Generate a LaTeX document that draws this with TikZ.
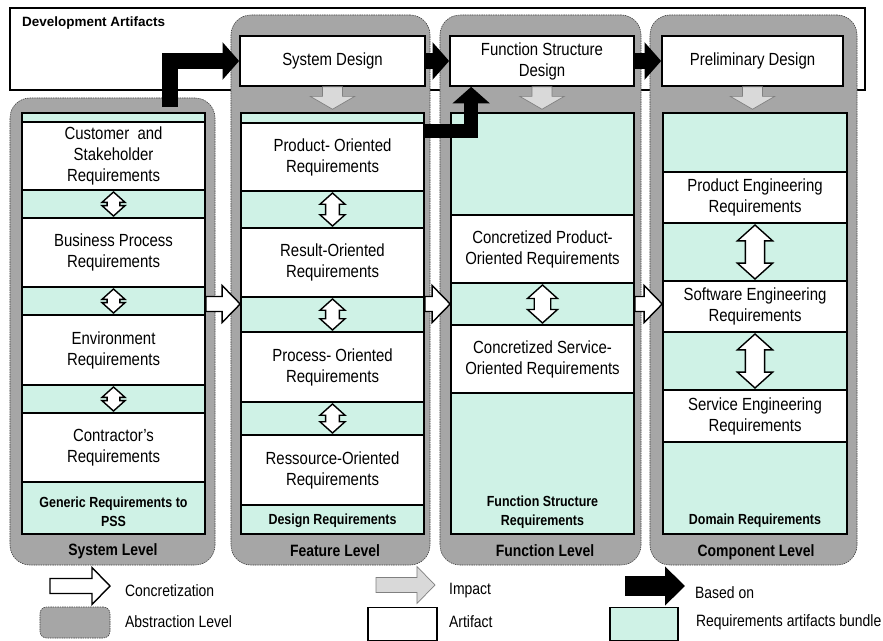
\documentclass[tikz,border=0pt]{standalone}
\usepackage{fontspec}
\setmainfont[FakeStretch=0.85]{Liberation Sans}
\newfontfamily\widefont{Liberation Sans}
\usetikzlibrary{arrows.meta,calc}

\definecolor{levelgray}{HTML}{A6A6A6}
\definecolor{bundlegreen}{HTML}{CFF2E6}
\definecolor{impactgray}{HTML}{D9D9D9}

\begin{document}
\begin{tikzpicture}[x=0.03cm,y=-0.03cm,
  level/.style={fill=levelgray,draw=black!75,line width=0.5pt,dash pattern=on 1.2pt off 0.8pt,rounded corners=0.6cm,inner sep=0pt},
  stack/.style={fill=bundlegreen,draw=black,line width=1.4pt,inner sep=0pt,minimum width=5.49cm,minimum height=12.63cm},
  artifact/.style={fill=white,draw=black,line width=1.4pt,inner sep=0pt,minimum width=5.49cm,align=center,font=\fontsize{15}{18}\selectfont},
  bundlefont/.style={align=center,font=\fontsize{12.5}{16}\selectfont\bfseries},
  levelfont/.style={font=\fontsize{14}{16}\selectfont\bfseries},
  legendfont/.style={anchor=west,font=\fontsize{14}{16}\selectfont},
  rightarrow/.style={draw=black,line width=1.2pt,to path={let \p1=(\tikztostart),\p2=(\tikztotarget) in
    (\x1,\y1+6.4pt) -- (\x2-15.4pt,\y1+6.4pt) -- (\x2-15.4pt,\y1+15.8pt) -- (\x2,\y1)
    -- (\x2-15.4pt,\y1-15.8pt) -- (\x2-15.4pt,\y1-6.4pt) -- (\x1,\y1-6.4pt) -- cycle}},
  concr/.style={rightarrow,fill=white},
  downarrow/.style={to path={let \p1=(\tikztostart),\p2=(\tikztotarget) in
    (\x1-8.5pt,\y1) -- (\x1-8.5pt,\y2+11pt) -- (\x1-19pt,\y2+11pt) -- (\x1,\y2)
    -- (\x1+19pt,\y2+11pt) -- (\x1+8.5pt,\y2+11pt) -- (\x1+8.5pt,\y1) -- cycle}},
  impact/.style={downarrow,fill=impactgray,draw=black!50,line width=0.6pt},
  twoway/.style={fill=white,draw=black,line width=1.2pt,to path={let \p1=(\tikztostart),\p2=(\tikztotarget) in
    (\x1,\y1-1pt) -- (\x1+#1,\y1-1pt-0.9*#1) -- (\x1+0.55*#1,\y1-1pt-0.9*#1) -- (\x1+0.55*#1,\y2+1pt+0.9*#1)
    -- (\x1+#1,\y2+1pt+0.9*#1) -- (\x1,\y2+1pt) -- (\x1-#1,\y2+1pt+0.9*#1) -- (\x1-0.55*#1,\y2+1pt+0.9*#1)
    -- (\x1-0.55*#1,\y1-1pt-0.9*#1) -- (\x1-#1,\y1-1pt-0.9*#1) -- cycle}},
  basedon/.style={draw=black,line width=0.48cm,-{Triangle[width=1.1cm,length=0.5cm]}}
]
\path[use as bounding box,fill=white] (0,0) rectangle (883,641);

% development artifacts
\node[draw=black,line width=1.2pt,minimum width=25.65cm,minimum height=2.46cm,inner sep=0pt] (devart) at (437.5,49) {};
\node[anchor=west,font=\widefont\fontsize{11.5}{14}\selectfont\bfseries] (devartlabel) at (18,23) {Development Artifacts};

% abstraction levels
\node[level,minimum width=6.15cm,minimum height=14.01cm] (syslevel) at (112.5,331.5) {};
\node[level,minimum width=5.97cm,minimum height=16.5cm] (featlevel) at (330.5,290) {};
\node[level,minimum width=6.03cm,minimum height=16.5cm] (funclevel) at (540.5,290) {};
\node[level,minimum width=6.21cm,minimum height=16.5cm] (complevel) at (753.5,290) {};
\node[levelfont] (syslabel) at (113,551) {System Level};
\node[levelfont] (featlabel) at (335,551) {Feature Level};
\node[levelfont] (funclabel) at (545,551) {Function Level};
\node[levelfont] (complabel) at (756,552) {Component Level};

% requirements bundles
\node[stack] (sysstack) at (113.5,323.5) {};
\node[stack] (featstack) at (332.5,323.5) {};
\node[stack] (funcstack) at (542.5,323.5) {};
\node[stack,minimum width=5.52cm] (compstack) at (755,323.5) {};

% system level
\node[artifact,minimum height=2.04cm] (custreq) at (113.5,156) {Customer\ \ and\\Stakeholder\\Requirements};
\node[artifact,minimum height=2.07cm] (busreq) at (113.5,252.5) {Business Process\\Requirements};
\node[artifact,minimum height=2.1cm] (envreq) at (113.5,350) {Environment\\Requirements};
\node[artifact,minimum height=2.07cm] (contreq) at (113.5,447.5) {Contractor's\\Requirements};
\node[bundlefont] (sysbundle) at (113.5,512) {Generic Requirements to\\PSS};

% feature level
\node[artifact,minimum height=2.04cm] (prodreq) at (332.5,157) {Product- Oriented\\Requirements};
\node[artifact,minimum height=2.07cm] (resreq) at (332.5,262.5) {Result-Oriented\\Requirements};
\node[artifact,minimum height=2.1cm] (procreq) at (332.5,367) {Process- Oriented\\Requirements};
\node[artifact,minimum height=2.1cm] (ressreq) at (332.5,470) {Ressource-Oriented\\Requirements};
\node[bundlefont] (featbundle) at (332.5,521) {Design Requirements};

% function level
\node[artifact,minimum height=2.04cm] (cprodreq) at (542.5,249) {Concretized Product-\\Oriented Requirements};
\node[artifact,minimum height=2.04cm] (cservreq) at (542.5,359) {Concretized Service-\\Oriented Requirements};
\node[bundlefont] (funcbundle) at (542.5,512) {Function Structure\\Requirements};

% component level
\node[artifact,minimum width=5.52cm,minimum height=1.53cm] (pengreq) at (755,197.5) {Product Engineering\\Requirements};
\node[artifact,minimum width=5.52cm,minimum height=1.53cm] (sengreq) at (755,306.5) {Software Engineering\\Requirements};
\node[artifact,minimum width=5.52cm,minimum height=1.56cm] (servreq) at (755,416) {Service Engineering\\Requirements};
\node[bundlefont] (compbundle) at (755,521) {Domain Requirements};

% design artifacts
\node[artifact,minimum width=5.55cm,minimum height=1.5cm] (sysdesign) at (332.5,61) {System Design};
\node[artifact,minimum width=5.52cm,minimum height=1.5cm] (fsdesign) at (542,61) {Function Structure\\Design};
\node[artifact,minimum width=5.43cm,minimum height=1.5cm] (prelimdesign) at (752.5,61) {Preliminary Design};

% impact
\draw[impact] (sysdesign.south) to ([yshift=2.5pt]featstack.north);
\draw[impact] (fsdesign.south) to ([yshift=2.5pt]funcstack.north);
\draw[impact] (prelimdesign.south) to ([yshift=2.5pt]compstack.north);

% concretization
\coordinate (concy) at (0,304);
\draw[concr] (sysstack.east |- concy) to (featstack.west |- concy);
\draw[concr] (featstack.east |- concy) to (funcstack.west |- concy);
\draw[concr] (funcstack.east |- concy) to (compstack.west |- concy);

% relations inside the bundles
\draw[twoway=9.8pt] (custreq.south) to (busreq.north);
\draw[twoway=9.8pt] (busreq.south) to (envreq.north);
\draw[twoway=9.8pt] (envreq.south) to (contreq.north);
\draw[twoway=10.7pt] (prodreq.south) to (resreq.north);
\draw[twoway=10.7pt] (resreq.south) to (procreq.north);
\draw[twoway=10.7pt] (procreq.south) to (ressreq.north);
\draw[twoway=12.8pt] (cprodreq.south) to (cservreq.north);
\draw[twoway=15pt] (pengreq.south) to (sengreq.north);
\draw[twoway=15pt] (sengreq.south) to (servreq.north);

% based on
\draw[basedon] ([xshift=1.7cm,yshift=0.15cm]sysstack.north) |- (sysdesign.west);
\draw[basedon] (sysdesign.east) -- (fsdesign.west);
\draw[basedon] (fsdesign.east) -- (prelimdesign.west);
\draw[basedon,line width=0.42cm] ([yshift=-0.25cm]prodreq.north east) -| ([xshift=0.66cm]fsdesign.south west);

% legend
\coordinate (conca) at (50,586);
\coordinate (concb) at (110,586);
\draw[concr] (conca) to (concb);
\node[legendfont] (concrlabel) at (121,591) {Concretization};
\node[level,minimum width=2.1cm,minimum height=0.93cm,rounded corners=0.2cm] (levelkey) at (75,622.5) {};
\node[legendfont] (levellabel) at (121,622) {Abstraction Level};
\coordinate (impa) at (376,585);
\coordinate (impb) at (435,585);
\draw[rightarrow,fill=impactgray,draw=black!50,line width=0.6pt] (impa) to (impb);
\node[legendfont] (impactlabel) at (445,591) {Impact};
\node[artifact,minimum width=2.07cm,minimum height=1cm] (artifactkey) at (402.5,624) {};
\node[legendfont] (artifactlabel) at (445,622) {Artifact};
\coordinate (basea) at (625,586);
\coordinate (baseb) at (685,586);
\draw[basedon,line width=0.62cm,-{Triangle[width=1.14cm,length=0.6cm]}] (basea) -- (baseb);
\node[legendfont] (basedonlabel) at (691,593) {Based on};
\node[stack,minimum width=2.04cm,minimum height=1cm] (bundlekey) at (644,624) {};
\node[legendfont] (bundlelabel) at (692,622) {Requirements artifacts bundle};
\end{tikzpicture}
\end{document}
